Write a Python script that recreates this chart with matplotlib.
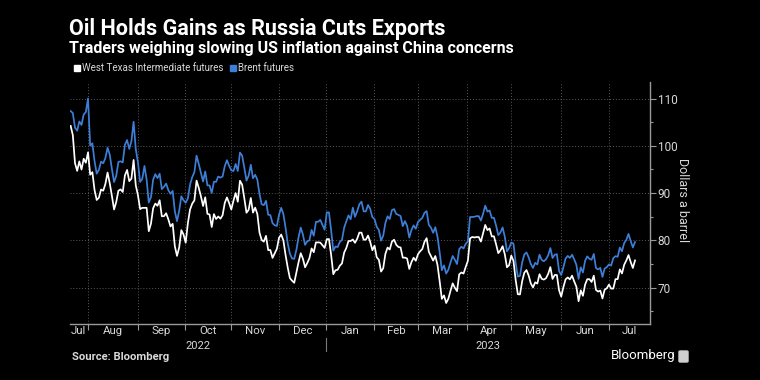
import numpy as np
import pandas as pd
import matplotlib
matplotlib.use("Agg")
import matplotlib.pyplot as plt
import matplotlib.transforms as mtransforms
from matplotlib.patches import Rectangle, FancyBboxPatch

# ---------------- data ----------------
start_date = "2022-07-19"   # first trading day shown (business-day series)

wti = [
    104.22, 102.26, 96.35, 94.70, 96.70, 94.98, 97.26, 96.42, 98.62, 93.89,
    94.42, 90.66, 88.54, 89.01, 90.76, 90.50, 91.93, 94.34, 92.09, 89.41,
    86.53, 88.11, 90.50, 90.77, 90.23, 93.74, 94.89, 92.52, 93.06, 97.01,
    91.64, 89.55, 86.61, 86.87, 86.87, 86.88, 81.94, 83.54, 86.79, 87.78,
    87.31, 88.48, 85.10, 85.11, 85.73, 84.45, 82.94, 83.49, 78.74, 76.71,
    78.50, 82.15, 81.23, 79.49, 83.63, 86.52, 87.76, 88.45, 92.64, 91.13,
    89.35, 87.27, 89.11, 85.61, 85.46, 82.82, 85.55, 84.51, 85.05, 84.58,
    85.32, 87.91, 89.08, 87.90, 86.53, 88.37, 90.00, 88.17, 92.61, 91.79,
    88.91, 85.83, 86.47, 88.96, 85.87, 86.92, 85.59, 81.64, 80.08, 79.73,
    80.95, 77.94, 77.94, 76.28, 77.24, 78.20, 80.55, 81.22, 79.98, 76.93,
    74.25, 72.01, 71.46, 71.02, 73.17, 75.39, 77.28, 76.11, 74.29, 75.19,
    76.23, 78.29, 77.49, 79.56, 79.56, 79.53, 78.96, 78.40, 80.26, 80.26,
    76.93, 72.84, 73.67, 73.77, 74.63, 75.12, 77.41, 78.39, 79.86, 79.86,
    80.18, 79.48, 80.33, 81.64, 81.62, 80.13, 80.15, 81.01, 79.68, 77.90,
    78.87, 76.41, 75.88, 73.39, 74.11, 77.14, 78.47, 78.06, 79.72, 80.14,
    79.06, 78.59, 78.49, 76.34, 76.34, 76.16, 73.95, 75.39, 76.32, 75.68,
    77.05, 77.69, 78.16, 79.68, 80.46, 77.58, 76.66, 75.72, 76.68, 74.80,
    71.33, 67.61, 68.35, 66.74, 67.64, 69.33, 70.90, 69.96, 69.26, 72.81,
    73.20, 72.97, 74.37, 75.67, 80.42, 80.71, 80.61, 80.70, 80.70, 79.74,
    81.53, 83.26, 82.16, 82.52, 80.83, 80.86, 79.16, 77.29, 77.87, 78.76,
    77.07, 74.30, 74.76, 76.78, 75.66, 71.66, 68.60, 68.56, 71.34, 73.16,
    73.71, 72.56, 70.87, 70.04, 71.11, 70.86, 72.83, 71.86, 71.69, 71.99,
    72.91, 74.34, 71.83, 72.67, 72.67, 69.46, 68.09, 70.10, 71.74, 72.15,
    71.74, 72.53, 71.29, 70.17, 67.12, 69.42, 68.27, 70.62, 71.78, 71.78,
    71.19, 72.53, 69.51, 69.16, 69.37, 67.70, 69.56, 69.86, 70.64, 69.79,
    69.79, 71.79, 71.80, 73.86, 72.99, 74.83, 75.75, 76.89, 75.42, 74.15,
    75.75,
]

brent = [
    107.35, 106.92, 103.86, 103.20, 105.15, 104.40, 106.62, 107.14, 110.01, 100.03,
    100.54, 96.78, 94.12, 94.92, 96.65, 96.31, 97.40, 99.60, 98.15, 95.10,
    92.34, 93.65, 96.59, 96.72, 96.48, 100.22, 101.22, 99.34, 100.99, 105.09,
    99.31, 96.49, 92.36, 93.02, 95.74, 92.83, 88.00, 89.15, 92.84, 94.00,
    93.17, 94.10, 90.84, 91.35, 92.00, 90.62, 89.83, 90.46, 86.15, 84.06,
    86.27, 89.32, 88.49, 87.96, 88.86, 91.80, 93.37, 94.42, 97.92, 96.19,
    94.29, 92.45, 94.57, 91.63, 91.62, 90.03, 92.41, 92.38, 93.50, 93.26,
    93.52, 95.69, 96.96, 95.77, 94.83, 94.65, 96.16, 94.67, 98.57, 97.92,
    95.36, 92.65, 93.67, 95.99, 93.14, 93.86, 92.86, 89.78, 87.62, 87.45,
    88.36, 85.41, 85.34, 83.63, 83.19, 83.03, 85.43, 86.88, 85.57, 82.68,
    79.35, 77.17, 76.15, 76.10, 77.99, 80.68, 82.70, 81.21, 79.04, 79.80,
    79.99, 82.20, 80.98, 83.92, 83.92, 84.33, 83.26, 82.26, 85.91, 85.91,
    82.10, 77.84, 78.69, 78.57, 79.65, 80.10, 82.67, 84.03, 85.28, 84.46,
    86.92, 84.98, 86.16, 87.63, 88.19, 86.13, 86.12, 87.47, 86.66, 84.90,
    84.49, 82.84, 82.17, 79.94, 80.99, 83.69, 85.09, 84.50, 86.39, 86.61,
    85.58, 85.38, 85.14, 83.00, 84.07, 83.05, 80.60, 82.21, 83.16, 82.45,
    83.89, 84.31, 84.75, 85.83, 86.18, 83.29, 82.66, 81.59, 82.78, 80.77,
    77.45, 73.69, 74.70, 72.97, 73.79, 75.32, 76.69, 75.91, 74.99, 78.12,
    78.65, 78.28, 79.27, 79.77, 84.93, 84.94, 84.99, 85.12, 85.12, 84.18,
    85.61, 87.33, 86.09, 86.31, 84.76, 84.77, 83.12, 81.10, 81.66, 82.73,
    80.77, 77.69, 78.37, 79.54, 79.31, 75.32, 72.33, 72.50, 75.30, 77.01,
    77.44, 76.41, 74.98, 74.17, 75.23, 74.91, 76.96, 75.86, 75.58, 75.99,
    76.84, 78.36, 76.26, 76.95, 77.07, 73.54, 72.66, 74.28, 76.13, 76.71,
    76.29, 76.95, 75.96, 74.79, 71.84, 74.29, 73.20, 75.67, 76.61, 76.09,
    75.90, 77.12, 74.14, 73.85, 74.18, 72.26, 74.03, 74.34, 74.90, 74.65,
    76.25, 76.65, 76.52, 78.47, 77.69, 79.40, 80.11, 81.36, 79.87, 78.50,
    79.63,
]

series_names = ["West Texas Intermediate futures", "Brent futures"]
y_ticks = [70, 80, 90, 100, 110]
y_minor = [65, 75, 85, 95, 105]
title = "Oil Holds Gains as Russia Cuts Exports"
subtitle = "Traders weighing slowing US inflation against China concerns"
y_label = "Dollars a barrel"
source = "Source: Bloomberg"
brand = "Bloomberg"

# ---------------- styling ----------------
BG = "black"
BLUE = "#3d7fd8"
TXT = "#d9d9d9"
GRID = "#5a5a5a"
FONT = ["Roboto", "DejaVu Sans"]
plt.rcParams["font.family"] = FONT

W, H = 760, 380
fig = plt.figure(figsize=(7.6, 3.8), dpi=100, facecolor=BG)
ax = fig.add_axes([70 / W, 1 - 324 / H, 580 / W, (324 - 82) / H])
ax.set_facecolor(BG)

dates = pd.bdate_range(start_date, periods=len(wti))
x = np.arange(len(dates))

ax.plot(x, brent, color=BLUE, lw=1.25, zorder=3)
ax.plot(x, wti, color="white", lw=1.25, zorder=4)

xmin, xmax = -0.3, 266.9
ax.set_xlim(xmin, xmax)
ax.set_ylim(62.3, 113.5)

# month boundaries on the trading-day axis
months = dates.to_period("M")
first_idx = [i for i in range(1, len(dates)) if months[i] != months[i - 1]]
bounds = [i - 1.2 for i in first_idx]
edges = [xmin] + bounds + [xmax]
centers = [(a + b) / 2 for a, b in zip(edges[:-1], edges[1:])]
month_names = [dates[0].strftime("%b")] + [dates[i].strftime("%b") for i in first_idx]

for b in bounds:
    ax.axvline(b, color=GRID, lw=0.7, ls=(0, (1, 2)), zorder=1)
for yt in y_ticks:
    ax.axhline(yt, color=GRID, lw=0.7, ls=(0, (1, 2)), zorder=1)

ax.set_xticks(bounds)
ax.set_xticklabels([])
ax.tick_params(axis="x", which="major", length=4, color="#9a9a9a", width=0.8)
ax.set_xticks(centers, minor=True)
ax.set_xticklabels(month_names, minor=True)
ax.tick_params(axis="x", which="minor", length=0, pad=1.5, labelsize=8.2, labelcolor=TXT)

ax.yaxis.tick_right()
ax.set_yticks(y_ticks)
ax.set_yticks(y_minor, minor=True)
ax.tick_params(axis="y", which="major", length=4, width=0.8, color="#9a9a9a",
               pad=1.5, labelsize=8.5, labelcolor=TXT)
ax.tick_params(axis="y", which="minor", length=2.5, width=0.8, color="#9a9a9a")

for s in ["left", "top"]:
    ax.spines[s].set_visible(False)
for s in ["right", "bottom"]:
    ax.spines[s].set_color("#9a9a9a")
    ax.spines[s].set_linewidth(1.0)

# year labels
trans = mtransforms.blended_transform_factory(ax.transData, ax.transAxes)
jan_pos = bounds[month_names[1:].index("Jan")]
years = [dates[0].year, dates[-1].year]
ax.text((xmin + jan_pos) / 2, -0.092, str(years[0]), transform=trans,
        ha="center", va="center", fontsize=8, color=TXT)
ax.text((jan_pos + xmax) / 2, -0.092, str(years[1]), transform=trans,
        ha="center", va="center", fontsize=8, color=TXT)
ax.plot([jan_pos, jan_pos], [-0.057, -0.11], transform=trans, color="#7a7a7a",
        lw=0.8, clip_on=False)

# y label
fig.text(682.5 / W, 1 - 200 / H, y_label, rotation=-90, ha="center", va="center",
         fontsize=9, color=TXT)

# titles
fig.text(69 / W, 1 - 29 / H, title, ha="left", va="center", fontsize=15.5,
         fontweight="bold", color="white")
fig.text(69 / W, 1 - 48 / H, subtitle, ha="left", va="center", fontsize=11.5,
         fontweight="bold", color="white")

# legend
leg_y = 1 - 68 / H
sq = 6
fig.patches.append(Rectangle((74 / W, leg_y - sq / 2 / H), sq / W, sq / H,
                             transform=fig.transFigure, color="white"))
fig.text(82 / W, leg_y, series_names[0], ha="left", va="center", fontsize=7,
         color=TXT)
fig.patches.append(Rectangle((230 / W, leg_y - sq / 2 / H), sq / W, sq / H,
                             transform=fig.transFigure, color=BLUE))
fig.text(238 / W, leg_y, series_names[1], ha="left", va="center", fontsize=7,
         color=TXT)

# footer
fig.text(72 / W, 1 - 357 / H, source, ha="left", va="center", fontsize=8.1,
         fontweight="bold", color=TXT)
fig.text(675 / W, 1 - 356 / H, brand, ha="right", va="center", fontsize=9.5,
         color="white")
fig.patches.append(FancyBboxPatch((679 / W, 1 - 362 / H), 9 / W, 11 / H,
                                  boxstyle="round,pad=0,rounding_size=0.002",
                                  transform=fig.transFigure, color="#cfcfcf"))

fig.savefig("out.png", dpi=100, facecolor=BG)
